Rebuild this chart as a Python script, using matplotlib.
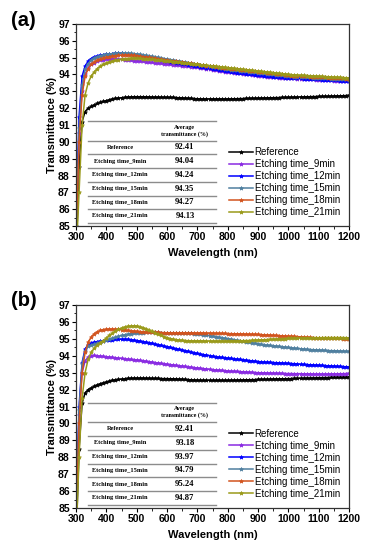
import numpy as np
import matplotlib
matplotlib.use("Agg")
import matplotlib.pyplot as plt
from matplotlib.ticker import MultipleLocator

plt.rcParams['font.family'] = ['Liberation Sans', 'DejaVu Sans']

wavelength = np.arange(300, 1201, 10)

series_names = ["Reference", "Etching time_9min", "Etching time_12min",
                "Etching time_15min", "Etching time_18min", "Etching time_21min"]
colors = ["#000000", "#8A2BE2", "#0000FF", "#4F7F9F", "#D2541E", "#9A9A1A"]

reference = [83.0, 88.5, 91.2, 91.8, 92.0, 92.1, 92.2, 92.28, 92.35, 92.4, 92.45, 92.5, 92.55, 92.58, 92.6, 92.62, 92.64, 92.66, 92.67, 92.68, 92.68,
             92.68, 92.68, 92.67, 92.67, 92.66, 92.66, 92.66, 92.65, 92.65, 92.65,
             92.64, 92.64, 92.63, 92.62, 92.61, 92.6, 92.59, 92.58, 92.57, 92.56,
             92.55, 92.55, 92.55, 92.55, 92.55, 92.55, 92.55, 92.55, 92.55, 92.55,
             92.55, 92.56, 92.56, 92.57, 92.57, 92.58, 92.58, 92.59, 92.59, 92.6,
             92.6, 92.61, 92.61, 92.62, 92.62, 92.63, 92.63, 92.64, 92.64, 92.65,
             92.65, 92.66, 92.66, 92.67, 92.67, 92.68, 92.68, 92.69, 92.69, 92.7,
             92.7, 92.71, 92.71, 92.72, 92.72, 92.73, 92.73, 92.74, 92.75, 92.76]

# ---------- panel (a) ----------
a_9 = [84.0, 90.5, 93.0, 94.0, 94.4, 94.6, 94.7, 94.8, 94.85, 94.88, 94.9, 94.92, 94.92, 94.92, 94.92, 94.9, 94.88, 94.86, 94.84, 94.83, 94.82,
       94.80, 94.78, 94.76, 94.74, 94.72, 94.70, 94.68, 94.66, 94.64, 94.62,
       94.60, 94.58, 94.56, 94.54, 94.52, 94.50, 94.48, 94.46, 94.44, 94.42,
       94.39, 94.36, 94.33, 94.30, 94.27, 94.24, 94.21, 94.18, 94.16, 94.14,
       94.12, 94.10, 94.08, 94.06, 94.04, 94.02, 94.00, 93.98, 93.96, 93.94,
       93.92, 93.90, 93.88, 93.86, 93.84, 93.83, 93.82, 93.81, 93.80, 93.79,
       93.78, 93.77, 93.76, 93.75, 93.74, 93.73, 93.72, 93.71, 93.70, 93.69,
       93.68, 93.67, 93.66, 93.65, 93.64, 93.63, 93.62, 93.61, 93.60, 93.59]
a_12 = [85.0, 91.5, 93.9, 94.5, 94.8, 94.95, 95.05, 95.1, 95.15, 95.18, 95.2, 95.22, 95.24, 95.25, 95.25, 95.25, 95.24, 95.22, 95.2, 95.18, 95.15,
        95.12, 95.09, 95.06, 95.02, 94.98, 94.94, 94.90, 94.86, 94.82, 94.78,
        94.75, 94.72, 94.69, 94.66, 94.63, 94.60, 94.57, 94.54, 94.51, 94.48,
        94.45, 94.42, 94.39, 94.36, 94.33, 94.30, 94.27, 94.24, 94.21, 94.18,
        94.15, 94.13, 94.11, 94.09, 94.07, 94.05, 94.03, 94.01, 93.99, 93.97,
        93.95, 93.93, 93.91, 93.89, 93.87, 93.85, 93.84, 93.83, 93.82, 93.81,
        93.80, 93.79, 93.78, 93.77, 93.76, 93.75, 93.74, 93.73, 93.72, 93.71,
        93.70, 93.69, 93.68, 93.67, 93.66, 93.65, 93.64, 93.63, 93.62, 93.61]
a_15 = [84.5, 90.8, 93.4, 94.3, 94.65, 94.85, 94.98, 95.06, 95.12, 95.16, 95.19, 95.22, 95.24, 95.26, 95.27, 95.28, 95.28, 95.27, 95.26, 95.24, 95.22,
        95.19, 95.16, 95.13, 95.10, 95.07, 95.04, 95.01, 94.98, 94.95, 94.92,
        94.89, 94.86, 94.83, 94.80, 94.77, 94.74, 94.71, 94.68, 94.65, 94.62,
        94.59, 94.56, 94.53, 94.50, 94.47, 94.44, 94.41, 94.38, 94.35, 94.32,
        94.29, 94.27, 94.25, 94.23, 94.21, 94.19, 94.17, 94.15, 94.13, 94.11,
        94.09, 94.07, 94.05, 94.03, 94.01, 93.99, 93.97, 93.95, 93.93, 93.91,
        93.89, 93.88, 93.87, 93.86, 93.85, 93.84, 93.83, 93.82, 93.81, 93.80,
        93.79, 93.78, 93.77, 93.76, 93.75, 93.74, 93.73, 93.72, 93.71, 93.70]
a_18 = [84.0, 90.0, 92.8, 93.9, 94.35, 94.6, 94.75, 94.85, 94.92, 94.98, 95.02, 95.06, 95.09, 95.11, 95.13, 95.14, 95.15, 95.15, 95.14, 95.13, 95.11,
        95.08, 95.06, 95.03, 95.01, 94.98, 94.96, 94.93, 94.91, 94.88, 94.86,
        94.83, 94.81, 94.78, 94.76, 94.73, 94.71, 94.68, 94.66, 94.63, 94.61,
        94.58, 94.56, 94.53, 94.51, 94.48, 94.46, 94.43, 94.41, 94.38, 94.36,
        94.34, 94.32, 94.30, 94.28, 94.26, 94.24, 94.22, 94.20, 94.18, 94.16,
        94.14, 94.12, 94.10, 94.08, 94.06, 94.04, 94.02, 94.00, 93.98, 93.96,
        93.94, 93.93, 93.92, 93.91, 93.90, 93.89, 93.88, 93.87, 93.86, 93.85,
        93.84, 93.83, 93.82, 93.81, 93.80, 93.79, 93.78, 93.77, 93.76, 93.75]
a_21 = [83.0, 87.0, 91.0, 92.8, 93.5, 93.9, 94.15, 94.35, 94.5, 94.6, 94.68, 94.75, 94.8, 94.85, 94.88, 94.91, 94.93, 94.95, 94.96, 94.97, 94.97,
        94.96, 94.95, 94.94, 94.93, 94.91, 94.89, 94.87, 94.85, 94.83, 94.81,
        94.79, 94.77, 94.75, 94.73, 94.71, 94.69, 94.67, 94.65, 94.63, 94.61,
        94.59, 94.57, 94.55, 94.53, 94.51, 94.49, 94.47, 94.45, 94.43, 94.41,
        94.39, 94.37, 94.35, 94.33, 94.31, 94.29, 94.27, 94.25, 94.23, 94.21,
        94.19, 94.17, 94.15, 94.13, 94.11, 94.09, 94.07, 94.05, 94.03, 94.01,
        93.99, 93.98, 93.97, 93.96, 93.95, 93.94, 93.93, 93.92, 93.91, 93.90,
        93.89, 93.88, 93.87, 93.86, 93.85, 93.84, 93.83, 93.82, 93.81, 93.80]

# ---------- panel (b) ----------
b_9 = [84.0, 90.5, 93.0, 93.7, 93.92, 94.0, 94.02, 94.0, 93.98, 93.96, 93.94, 93.92, 93.9, 93.88, 93.86, 93.84, 93.82, 93.8, 93.78, 93.77, 93.76,
       93.73, 93.70, 93.68, 93.65, 93.63, 93.60, 93.58, 93.55, 93.53, 93.50,
       93.48, 93.46, 93.43, 93.41, 93.39, 93.37, 93.34, 93.32, 93.30, 93.28,
       93.26, 93.24, 93.22, 93.20, 93.18, 93.16, 93.15, 93.13, 93.12, 93.10,
       93.09, 93.08, 93.07, 93.06, 93.05, 93.04, 93.03, 93.02, 93.01, 93.00,
       92.99, 92.99, 92.98, 92.98, 92.97, 92.97, 92.96, 92.96, 92.95, 92.95,
       92.95, 92.94, 92.94, 92.94, 92.93, 92.93, 92.93, 92.92, 92.92, 92.92,
       92.92, 92.92, 92.92, 92.93, 92.93, 92.93, 92.94, 92.94, 92.95, 92.96]
b_12 = [84.5, 91.0, 93.6, 94.4, 94.65, 94.75, 94.8, 94.84, 94.87, 94.9, 94.92, 94.94, 94.96, 94.97, 94.98, 94.98, 94.98, 94.97, 94.95, 94.93, 94.9,
        94.87, 94.84, 94.81, 94.77, 94.74, 94.70, 94.66, 94.62, 94.58, 94.54,
        94.50, 94.46, 94.42, 94.38, 94.34, 94.30, 94.26, 94.22, 94.18, 94.14,
        94.10, 94.07, 94.04, 94.01, 93.98, 93.95, 93.92, 93.90, 93.88, 93.86,
        93.84, 93.82, 93.80, 93.78, 93.76, 93.74, 93.72, 93.70, 93.68, 93.66,
        93.64, 93.63, 93.62, 93.61, 93.60, 93.59, 93.58, 93.57, 93.56, 93.55,
        93.54, 93.53, 93.52, 93.50, 93.49, 93.48, 93.47, 93.46, 93.45, 93.44,
        93.43, 93.42, 93.41, 93.40, 93.39, 93.38, 93.37, 93.36, 93.35, 93.34]
b_15 = [84.0, 90.8, 93.5, 94.3, 94.55, 94.62, 94.68, 94.74, 94.8, 94.86, 94.92, 94.98, 95.04, 95.1, 95.15, 95.2, 95.24, 95.28, 95.31, 95.33, 95.35,
        95.36, 95.37, 95.38, 95.38, 95.38, 95.38, 95.38, 95.37, 95.36, 95.36,
        95.36, 95.36, 95.36, 95.35, 95.35, 95.34, 95.33, 95.32, 95.31, 95.30,
        95.28, 95.25, 95.22, 95.19, 95.16, 95.13, 95.10, 95.07, 95.04, 95.01,
        94.98, 94.95, 94.92, 94.89, 94.86, 94.83, 94.80, 94.77, 94.74, 94.71,
        94.68, 94.65, 94.63, 94.61, 94.59, 94.57, 94.55, 94.53, 94.51, 94.49,
        94.47, 94.45, 94.43, 94.41, 94.40, 94.38, 94.37, 94.36, 94.35, 94.34,
        94.33, 94.32, 94.31, 94.30, 94.30, 94.29, 94.28, 94.28, 94.27, 94.26]
b_18 = [84.0, 90.0, 93.0, 94.2, 94.8, 95.1, 95.3, 95.42, 95.5, 95.55, 95.57, 95.58, 95.58, 95.57, 95.56, 95.54, 95.52, 95.5, 95.48, 95.46, 95.44,
        95.43, 95.42, 95.41, 95.40, 95.39, 95.38, 95.38, 95.37, 95.37, 95.36,
        95.36, 95.36, 95.36, 95.36, 95.36, 95.36, 95.36, 95.35, 95.35, 95.35,
        95.35, 95.35, 95.34, 95.34, 95.34, 95.33, 95.33, 95.32, 95.32, 95.31,
        95.31, 95.30, 95.30, 95.29, 95.29, 95.28, 95.28, 95.27, 95.27, 95.26,
        95.25, 95.24, 95.23, 95.22, 95.21, 95.20, 95.19, 95.18, 95.17, 95.16,
        95.15, 95.14, 95.13, 95.12, 95.11, 95.10, 95.09, 95.08, 95.07, 95.06,
        95.06, 95.05, 95.05, 95.04, 95.04, 95.03, 95.03, 95.02, 95.02, 95.01]
b_21 = [83.0, 88.0, 91.5, 93.0, 93.8, 94.2, 94.45, 94.62, 94.76, 94.9, 95.05, 95.2, 95.34, 95.46, 95.56, 95.64, 95.7, 95.74, 95.76, 95.77, 95.76,
        95.72, 95.67, 95.60, 95.52, 95.44, 95.36, 95.28, 95.20, 95.13, 95.07,
        95.02, 94.98, 94.95, 94.93, 94.91, 94.90, 94.89, 94.88, 94.88, 94.88,
        94.88, 94.88, 94.87, 94.87, 94.87, 94.87, 94.87, 94.87, 94.87, 94.87,
        94.87, 94.88, 94.88, 94.89, 94.89, 94.90, 94.90, 94.91, 94.92, 94.93,
        94.94, 94.95, 94.96, 94.97, 94.98, 94.99, 95.00, 95.01, 95.02, 95.03,
        95.04, 95.04, 95.05, 95.05, 95.06, 95.06, 95.06, 95.07, 95.07, 95.07,
        95.07, 95.08, 95.08, 95.08, 95.08, 95.08, 95.08, 95.08, 95.07, 95.06]

table_labels = ["Reference", "Etching time_9min", "Etching time_12min",
                "Etching time_15min", "Etching time_18min", "Etching time_21min"]
avg_a = ["92.41", "94.04", "94.24", "94.35", "94.27", "94.13"]
avg_b = ["92.41", "93.18", "93.97", "94.79", "95.24", "94.87"]

panels = [
    ("(a)", [reference, a_9, a_12, a_15, a_18, a_21], avg_a),
    ("(b)", [reference, b_9, b_12, b_15, b_18, b_21], avg_b),
]

fig = plt.figure(figsize=(3.73, 5.5), dpi=100)
axes_rects = [[0.2038, 0.589, 0.732, 0.3674], [0.2038, 0.0764, 0.732, 0.369]]
label_y = [1 - 20 / 550, 1 - 301 / 550]

# table geometry in data coordinates
tab_x0, tab_x1 = 340, 761
col1_x, col2_x = 445, 659
line_ys = [91.22, 90.08, 89.27, 88.45, 87.63, 86.81, 86.0, 85.2]

for (plabel, data, avgs), rect, ly in zip(panels, axes_rects, label_y):
    ax = fig.add_axes(rect)
    for name, vals, c in zip(series_names, data, colors):
        ax.plot(wavelength, vals, color=c, lw=1.1, marker='*', ms=3.0,
                mew=0.5, label=name)
    ax.set_xlim(300, 1200)
    ax.set_ylim(85, 97)
    ax.xaxis.set_major_locator(MultipleLocator(100))
    ax.xaxis.set_minor_locator(MultipleLocator(50))
    ax.yaxis.set_major_locator(MultipleLocator(1))
    ax.yaxis.set_minor_locator(MultipleLocator(0.5))
    ax.tick_params(which='major', direction='out', length=3, width=0.8,
                   labelsize=7.5, pad=1.5)
    ax.tick_params(which='minor', direction='out', length=1.8, width=0.6)
    for lab in ax.get_xticklabels() + ax.get_yticklabels():
        lab.set_fontweight('bold')
    for sp in ax.spines.values():
        sp.set_linewidth(0.9)
        sp.set_color('#333333')
    ax.set_xlabel("Wavelength (nm)", fontsize=8, fontweight='bold', labelpad=4)
    ax.set_ylabel("Transmittance (%)", fontsize=8, fontweight='bold', labelpad=1)

    # table
    for yv in line_ys:
        ax.plot([tab_x0, tab_x1], [yv, yv], color='#8c8c8c', lw=1.0, zorder=1)
    ax.text(col2_x, (line_ys[0] + line_ys[1]) / 2, "Average\ntransmittance (%)",
            ha='center', va='center', fontsize=4.3, fontweight='bold',
            family='Liberation Serif', linespacing=1.3)
    for i, (tl, av) in enumerate(zip(table_labels, avgs)):
        yc = (line_ys[i + 1] + line_ys[i + 2]) / 2
        ax.text(col1_x, yc, tl, ha='center', va='center', fontsize=4.6,
                fontweight='bold', family='Liberation Serif')
        ax.text(col2_x, yc, av, ha='center', va='center', fontsize=6.2,
                fontweight='bold', family='Liberation Serif')

    ax.legend(loc='upper left', bbox_to_anchor=(0.56, 0.39), frameon=False,
              fontsize=7, handlelength=2.5, handletextpad=0.15,
              labelspacing=0.2, borderaxespad=0, borderpad=0)

    fig.text(0.03, ly, plabel, fontsize=14.5, fontweight='bold', va='center',
             ha='left')

fig.savefig("out.png", dpi=100)
